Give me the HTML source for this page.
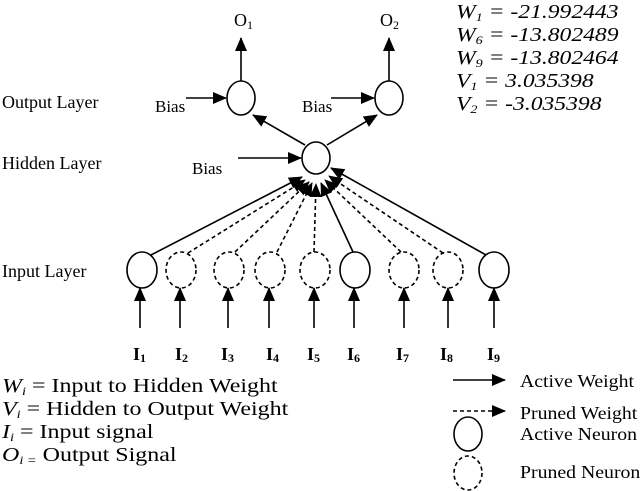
<!DOCTYPE html>
<html><head><style>body{margin:0;background:#fff}svg{display:block}</style></head><body>
<svg width="640" height="491" viewBox="0 0 640 491" xmlns="http://www.w3.org/2000/svg" font-family="Liberation Serif, serif" fill="#000">
<defs>
<marker id="b" markerWidth="14" markerHeight="12" refX="13" refY="6" orient="auto" markerUnits="userSpaceOnUse"><path d="M0,0 L14,6 L0,12 z"/></marker></defs>
<g stroke="#000" stroke-width="1.6" fill="none">
<line x1="241" y1="81" x2="241" y2="38" marker-end="url(#b)"/>
<line x1="389" y1="81" x2="389" y2="38" marker-end="url(#b)"/>
<ellipse cx="241" cy="98" rx="14" ry="17"/><ellipse cx="389" cy="98" rx="14" ry="17"/>
<line x1="186" y1="98" x2="226" y2="98" marker-end="url(#b)"/>
<line x1="331" y1="98" x2="374" y2="98" marker-end="url(#b)"/>
<ellipse cx="316" cy="158" rx="14" ry="16"/>
<line x1="238" y1="158" x2="301" y2="158" marker-end="url(#b)"/>
<line x1="305" y1="145" x2="253" y2="115" marker-end="url(#b)"/>
<line x1="327" y1="145" x2="377" y2="115" marker-end="url(#b)"/>
<line x1="151" y1="255" x2="302" y2="177" marker-end="url(#b)"/>
<line x1="188" y1="253" x2="305" y2="180" stroke-dasharray="4,3" marker-end="url(#b)"/>
<line x1="235" y1="252" x2="309" y2="182" stroke-dasharray="4,3" marker-end="url(#b)"/>
<line x1="277" y1="252" x2="312" y2="183" stroke-dasharray="4,3" marker-end="url(#b)"/>
<line x1="314" y1="252" x2="316" y2="184" stroke-dasharray="4,3" marker-end="url(#b)"/>
<line x1="353" y1="252" x2="321" y2="183" marker-end="url(#b)"/>
<line x1="401" y1="252" x2="325" y2="180" stroke-dasharray="4,3" marker-end="url(#b)"/>
<line x1="443" y1="253" x2="329" y2="176" stroke-dasharray="4,3" marker-end="url(#b)"/>
<line x1="486" y1="255" x2="331" y2="168" marker-end="url(#b)"/>
<ellipse cx="142" cy="270" rx="15" ry="18"/>
<ellipse cx="181" cy="270" rx="15" ry="18" stroke-dasharray="4,3"/>
<ellipse cx="229" cy="270" rx="15" ry="18" stroke-dasharray="4,3"/>
<ellipse cx="270" cy="270" rx="15" ry="18" stroke-dasharray="4,3"/>
<ellipse cx="315" cy="270" rx="15" ry="18" stroke-dasharray="4,3"/>
<ellipse cx="355" cy="270" rx="15" ry="18"/>
<ellipse cx="404" cy="270" rx="15" ry="18" stroke-dasharray="4,3"/>
<ellipse cx="448" cy="270" rx="15" ry="18" stroke-dasharray="4,3"/>
<ellipse cx="494" cy="270" rx="15" ry="18"/>
<g marker-end="url(#b)">
<line x1="140" y1="328" x2="140" y2="288"/><line x1="180" y1="328" x2="180" y2="288"/><line x1="228" y1="328" x2="228" y2="288"/><line x1="269" y1="328" x2="269" y2="288"/><line x1="314" y1="328" x2="314" y2="288"/><line x1="354" y1="328" x2="354" y2="288"/><line x1="404" y1="328" x2="404" y2="288"/><line x1="448" y1="328" x2="448" y2="288"/><line x1="494" y1="328" x2="494" y2="288"/>
</g>
<line x1="453" y1="380" x2="505" y2="380" marker-end="url(#b)"/>
<line x1="453" y1="411" x2="505" y2="411" stroke-dasharray="4,3" marker-end="url(#b)"/>
<ellipse cx="468" cy="434" rx="14" ry="17"/>
<ellipse cx="468" cy="473" rx="14" ry="17" stroke-dasharray="4,3"/>
</g>
<g font-size="18">
<text x="234" y="26">O<tspan font-size="12" dy="3">1</tspan></text>
<text x="380" y="26">O<tspan font-size="12" dy="3">2</tspan></text>
<text x="2" y="108">Output Layer</text>
<text x="2" y="169">Hidden Layer</text>
<text x="2" y="277">Input Layer</text>
<text x="155" y="112" font-size="17">Bias</text>
<text x="302" y="112" font-size="17">Bias</text>
<text x="192" y="174" font-size="17">Bias</text>
<g font-style="italic" font-size="20" transform="translate(456,0) scale(1.18,1) translate(-456,0)">
<text x="456" y="18">W<tspan font-size="12" dy="3">1</tspan><tspan dy="-3"> =  -21.992443</tspan></text>
<text x="456" y="41">W<tspan font-size="12" dy="3">6</tspan><tspan dy="-3"> = -13.802489</tspan></text>
<text x="456" y="64">W<tspan font-size="12" dy="3">9</tspan><tspan dy="-3"> = -13.802464</tspan></text>
<text x="456" y="87">V<tspan font-size="12" dy="3">1</tspan><tspan dy="-3"> = 3.035398</tspan></text>
<text x="456" y="110">V<tspan font-size="12" dy="3">2</tspan><tspan dy="-3"> = -3.035398</tspan></text></g>
<g font-weight="bold"><text x="133" y="360">I<tspan font-size="12" dy="2">1</tspan></text><text x="175" y="360">I<tspan font-size="12" dy="2">2</tspan></text><text x="221" y="360">I<tspan font-size="12" dy="2">3</tspan></text><text x="266" y="360">I<tspan font-size="12" dy="2">4</tspan></text><text x="307" y="360">I<tspan font-size="12" dy="2">5</tspan></text><text x="347" y="360">I<tspan font-size="12" dy="2">6</tspan></text><text x="396" y="360">I<tspan font-size="12" dy="2">7</tspan></text><text x="440" y="360">I<tspan font-size="12" dy="2">8</tspan></text><text x="487" y="360">I<tspan font-size="12" dy="2">9</tspan></text></g>
<g font-size="20" transform="translate(2,0) scale(1.2,1) translate(-2,0)">
<text x="2" y="392"><tspan font-style="italic">W<tspan font-size="12" dy="3">i</tspan></tspan><tspan dy="-3"> = Input to Hidden Weight</tspan></text>
<text x="2" y="415"><tspan font-style="italic">V<tspan font-size="12" dy="3">i</tspan></tspan><tspan dy="-3"> = Hidden to Output Weight</tspan></text>
<text x="2" y="438"><tspan font-style="italic">I<tspan font-size="12" dy="3">i</tspan></tspan><tspan dy="-3"> = Input signal</tspan></text>
<text x="2" y="461"><tspan font-style="italic">O<tspan font-size="12" dy="3">i =</tspan></tspan><tspan dy="-3"> Output Signal</tspan></text>
</g>
<g font-size="18" transform="translate(520,0) scale(1.1,1) translate(-520,0)">
<text x="520" y="387">Active Weight</text>
<text x="520" y="419">Pruned Weight</text>
<text x="520" y="440">Active Neuron</text>
<text x="520" y="478">Pruned Neuron</text>
</g>
</g>
</svg>
</body></html>
